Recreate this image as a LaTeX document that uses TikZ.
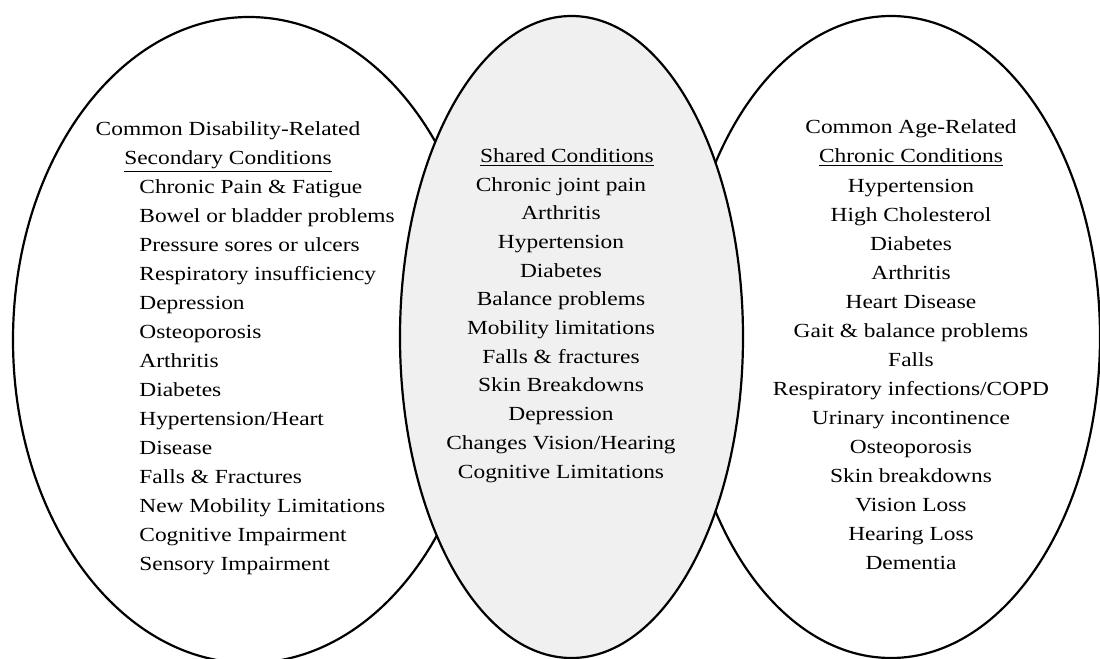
\documentclass[tikz,border=0pt]{standalone}
\usepackage{fontspec}
\setmainfont{Liberation Serif}[FakeStretch=1.17]
\usepackage{xcolor}
\definecolor{SharedGray}{HTML}{F0F0F0}
\usepackage{tikz}
\usetikzlibrary{positioning}

\begin{document}
\begin{tikzpicture}[x=0.5pt, y=-0.5pt, font=\fontsize{10}{12}\selectfont,
    ring/.style={draw=black, line width=1.1pt},
    headline/.style={inner sep=0pt, anchor=base},
    entry/.style={inner sep=0pt, anchor=base west},
    centry/.style={inner sep=0pt, anchor=base}]

    \useasboundingbox (0,0) rectangle (1100,659);

    % 1. THE THREE RINGS -> middle one shaded, drawn last so it covers the others
    \draw[ring] (249,340) ellipse [x radius=118pt, y radius=161.5pt];
    \draw[ring] (891,337) ellipse [x radius=104.5pt, y radius=160.5pt];
    \filldraw[ring, fill=SharedGray] (571.5,337) ellipse [x radius=85.75pt, y radius=160.5pt];

    % 2. DISABILITY-RELATED (left ring)
    \node[headline] (disHead) at (228,135) {Common Disability-Related};
    \node[headline] (disSub) at (228,164) {\underline{Secondary Conditions}};
    \foreach \txt [count=\i from 0] in {Chronic Pain \& Fatigue, Bowel or bladder problems,
        Pressure sores or ulcers, Respiratory insufficiency, Depression, Osteoporosis,
        Arthritis, Diabetes, Hypertension/Heart, Disease, Falls \& Fractures,
        New Mobility Limitations, Cognitive Impairment, Sensory Impairment} {
        \node[entry] (dis\i) at (139,{193+29*\i}) {\txt};
    }

    % 3. SHARED (middle ring)
    \node[headline] (sharedHead) at (567,162) {\underline{Shared Conditions}};
    \foreach \txt [count=\i from 0] in {Chronic joint pain, Arthritis, Hypertension,
        Diabetes, Balance problems, Mobility limitations, Falls \& fractures,
        Skin Breakdowns, Depression, Changes Vision/Hearing, Cognitive Limitations} {
        \node[centry] (shared\i) at (561,{191+28.7*\i}) {\txt};
    }

    % 4. AGE-RELATED (right ring)
    \node[headline] (ageHead) at (911,133) {Common Age-Related};
    \node[headline] (ageSub) at (911,162) {\underline{Chronic Conditions}};
    \foreach \txt [count=\i from 0] in {Hypertension, High Cholesterol, Diabetes,
        Arthritis, Heart Disease, Gait \& balance problems, Falls,
        Respiratory infections/COPD, Urinary incontinence, Osteoporosis,
        Skin breakdowns, Vision Loss, Hearing Loss, Dementia} {
        \node[centry] (age\i) at (911,{192+29*\i}) {\txt};
    }

\end{tikzpicture}
\end{document}
